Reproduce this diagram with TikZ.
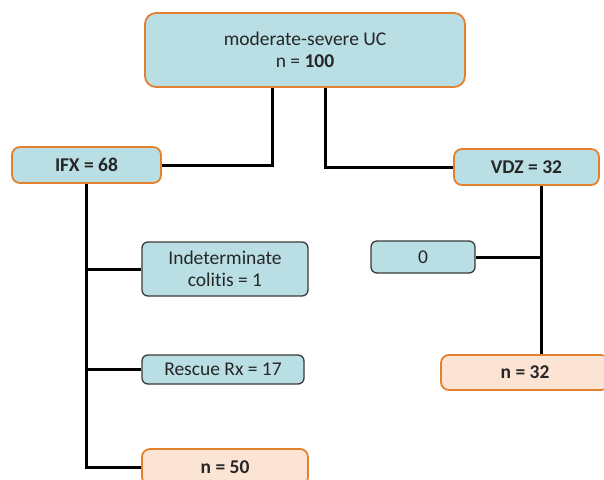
\documentclass[tikz,border=0pt]{standalone}
\usepackage{fontspec}
\setmainfont{Carlito}[Ligatures=NoCommon]
\usetikzlibrary{positioning}

\definecolor{boxblue}{HTML}{B9DFE4}
\definecolor{boxpeach}{HTML}{FCE4D4}
\definecolor{edgeorange}{HTML}{E3812F}
\definecolor{edgedark}{HTML}{3A3A3A}

\tikzset{
    groupbox/.style={draw=edgeorange, line width=1.8pt, fill=boxblue, rounded corners=8pt,
        align=center, inner sep=0pt},
    subbox/.style={draw=edgedark, line width=1.3pt, fill=boxblue, rounded corners=6pt,
        align=center, inner sep=0pt},
    countbox/.style={draw=edgeorange, line width=1.8pt, fill=boxpeach, rounded corners=8pt,
        align=center, inner sep=0pt},
    link/.style={line width=3pt, black}
}

\begin{document}
\begin{tikzpicture}[x=1pt, y=-1pt, font=\fontsize{19.5}{22}\selectfont, text=black!85]
    \clip (0,0) rectangle (604,479);
    \useasboundingbox (0,0) rectangle (604,479);

    % Cohort
    \node[groupbox, rounded corners=11pt, minimum width=320pt, minimum height=74pt] (cohort) at (305,50)
        {moderate-severe UC\\n = \textbf{100}};

    % Treatment arms
    \node[groupbox, minimum width=149pt, minimum height=36pt] (ifx) at (86.5,165) {\textbf{IFX = 68}};
    \node[groupbox, minimum width=145pt, minimum height=36pt] (vdz) at (526.5,167) {\textbf{VDZ = 32}};

    % IFX exclusions
    \node[subbox, minimum width=166pt, minimum height=54pt] (indet) at (225,269)
        {Indeterminate\\colitis = 1};
    \node[subbox, minimum width=162pt, minimum height=29pt] (rescue) at (223,369.5) {Rescue Rx = 17};
    \node[countbox, minimum width=166pt, minimum height=36pt] (nifx) at (225,467) {\textbf{n = 50}};

    % VDZ exclusions
    \node[subbox, minimum width=104pt, minimum height=32pt] (vzero) at (423,257) {0};
    \node[countbox, minimum width=168pt, minimum height=35pt] (nvdz) at (525,372.5) {\textbf{n = 32}};

    % Split of the cohort
    \draw[link] ([xshift=-33pt]cohort.south) |- (ifx.east);
    \draw[link] ([xshift=20pt]cohort.south) |- (vdz.west);

    % IFX branch
    \draw[link] (ifx.south) |- (nifx.west);
    \draw[link] (ifx.south |- indet.west) -- (indet.west);
    \draw[link] (ifx.south |- rescue.west) -- (rescue.west);

    % VDZ branch
    \coordinate (vdzdrop) at ([xshift=14.5pt]vdz.south);
    \draw[link] (vdzdrop) -- (vdzdrop |- nvdz.north);
    \draw[link] (vzero.east) -- (vzero.east -| vdzdrop);
\end{tikzpicture}
\end{document}
